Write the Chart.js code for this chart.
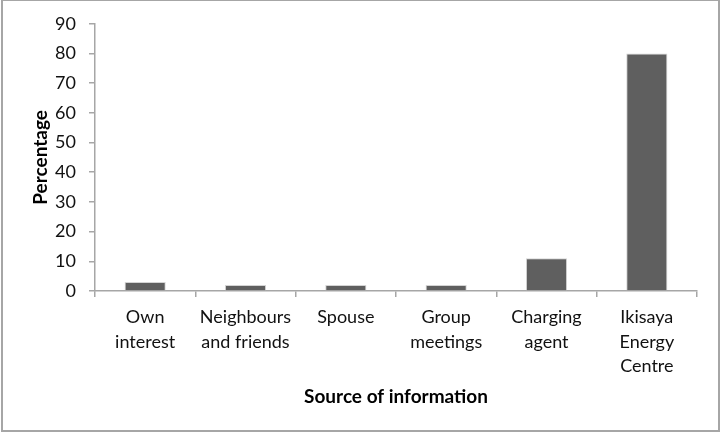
<!DOCTYPE html>
<html lang="en">
<head>
    <meta charset="UTF-8">
    <title>Source of information</title>
    <script src="https://cdn.jsdelivr.net/npm/chart.js"></script>
    <style>
        body { margin: 0; background: #fff; }
        #frame { position: absolute; left: 1px; top: -1px; width: 719px; height: 433px; border: 2px solid #a6a6a6; box-sizing: border-box; }
        #wrap { position: absolute; left: 0; top: 0; width: 725px; height: 440px; }
    </style>
</head>
<body>
    <div id="frame"></div>
    <div id="wrap"><canvas id="infoChart" width="725" height="440"></canvas></div>
    <script>
        const categories = [
            ['Own', 'interest'],
            ['Neighbours', 'and friends'],
            ['Spouse'],
            ['Group', 'meetings'],
            ['Charging', 'agent'],
            ['Ikisaya', 'Energy', 'Centre']
        ];
        const percentages = [3, 2, 2, 2, 11, 80];
        const yTicks = [0, 10, 20, 30, 40, 50, 60, 70, 80, 90];

        const axisGrey = '#a6a6a6';
        const fontFamily = 'Lato, "Open Sans", sans-serif';

        const ctx = document.getElementById('infoChart').getContext('2d');
        new Chart(ctx, {
            type: 'bar',
            data: {
                labels: categories,
                datasets: [{
                    label: 'Percentage',
                    data: percentages,
                    backgroundColor: '#5f5f5f',
                    borderColor: '#d4d4d4',
                    borderWidth: 1,
                    categoryPercentage: 1,
                    barPercentage: 0.41
                }]
            },
            options: {
                responsive: false,
                animation: false,
                layout: { padding: { top: 22, right: 28, left: 0, bottom: 0 } },
                plugins: { legend: { display: false }, tooltip: { enabled: false } },
                scales: {
                    x: {
                        afterFit: (scale) => { scale.height = 149; },
                        grid: { drawOnChartArea: false, drawTicks: true, tickLength: 6, color: axisGrey, lineWidth: 1.5 },
                        border: { color: axisGrey, width: 1.5 },
                        ticks: { color: '#111', padding: 8, font: { family: fontFamily, size: 18, lineHeight: 1.36 } },
                        title: {
                            display: true,
                            text: 'Source of information',
                            color: '#000',
                            padding: { top: 0, bottom: 32 },
                            font: { family: fontFamily, size: 19, weight: 'bold' }
                        }
                    },
                    y: {
                        min: 0,
                        max: 90,
                        afterFit: (scale) => { scale.width = 95; },
                        afterBuildTicks: (scale) => { scale.ticks = yTicks.map(v => ({ value: v })); },
                        grid: { drawOnChartArea: false, drawTicks: true, tickLength: 6, color: axisGrey, lineWidth: 1.5 },
                        border: { color: axisGrey, width: 1.5 },
                        ticks: { color: '#111', padding: 13, font: { family: fontFamily, size: 18 } },
                        title: {
                            display: true,
                            text: 'Percentage',
                            color: '#000',
                            padding: { top: 29, bottom: 0 },
                            font: { family: fontFamily, size: 19, weight: 'bold' }
                        }
                    }
                }
            }
        });
    </script>
</body>
</html>
